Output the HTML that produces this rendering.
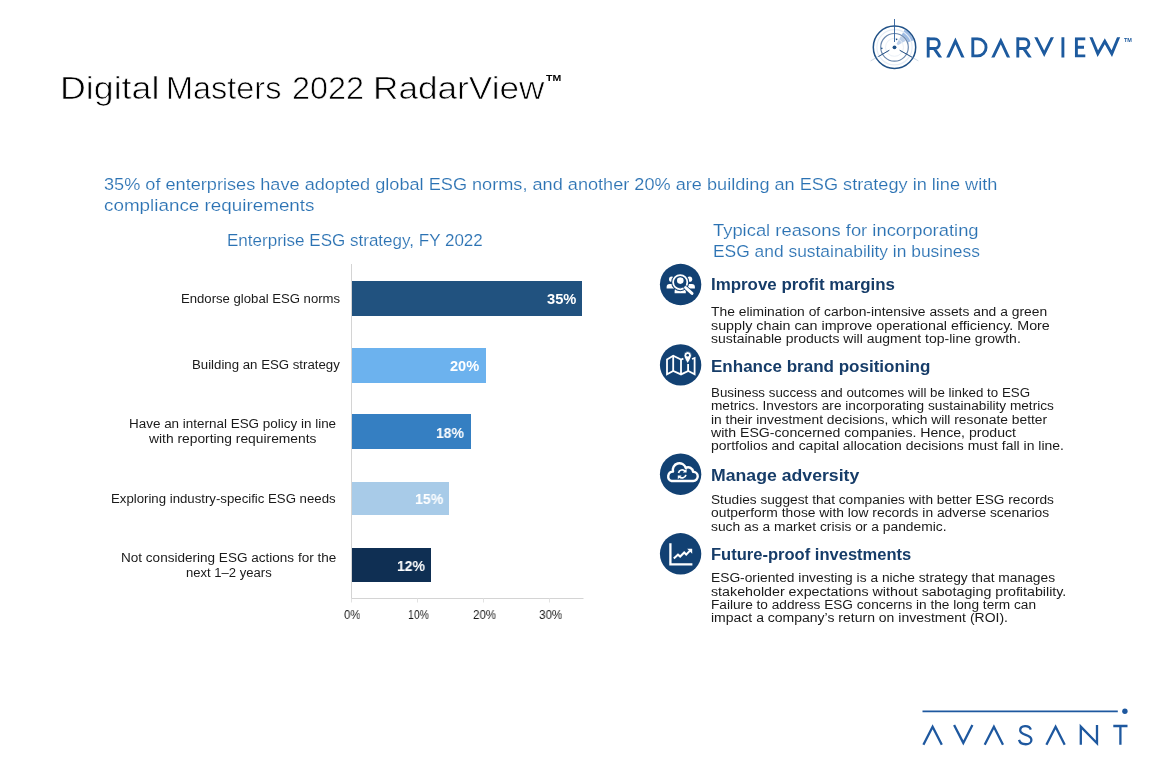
<!DOCTYPE html>
<html lang="en"><head><meta charset="utf-8"><title>Digital Masters 2022 RadarView</title>
<style>
html,body{margin:0;padding:0;background:#fff;}
body{width:1152px;height:768px;position:relative;overflow:hidden;font-family:"Liberation Sans",sans-serif;}
.t{position:absolute;white-space:pre;line-height:1;transform-origin:0 0;will-change:transform;font-family:"Liberation Sans",sans-serif;}
svg.art{position:absolute;left:0;top:0;}
</style></head><body>
<svg class="art" width="1152" height="768" viewBox="0 0 1152 768">
<!-- chart -->
<g shape-rendering="crispEdges">
<rect x="352" y="281" width="230.3" height="34.8" fill="#21527f"/>
<rect x="352" y="348" width="133.8" height="34.6" fill="#6cb2ee"/>
<rect x="352" y="414.4" width="118.9" height="34.4" fill="#357fc2"/>
<rect x="352" y="481.5" width="97" height="33.8" fill="#a8cbe8"/>
<rect x="352" y="548" width="79.4" height="34.1" fill="#0f2f53"/>
</g>
<g stroke="#d4d4d4" stroke-width="1" fill="none">
<path d="M351.5 264 V602"/>
<path d="M351 598.5 H583.5"/>
<path d="M351.5 598.5 v4 M417.5 598.5 v4 M483.5 598.5 v4 M549.5 598.5 v4" stroke="#e2e2e2"/>
</g>
<!-- icon circles -->
<g fill="#124173">
<circle cx="680.6" cy="284.5" r="20.7"/>
<circle cx="680.6" cy="364.9" r="20.7"/>
<circle cx="680.6" cy="474.2" r="20.7"/>
<circle cx="680.6" cy="553.8" r="20.7"/>
</g>

<!-- icon 1: people + magnifier -->
<g fill="#fff" stroke="none">
<circle cx="671.6" cy="279.2" r="2.6"/>
<path d="M666.6 288.6 v-1.6 a3 3 0 0 1 3 -3 h3.6 l1.2 4.6 z"/>
<circle cx="689.6" cy="279.2" r="2.6"/>
<path d="M694.9 288.6 v-1.6 a3 3 0 0 0 -3 -3 h-3.6 l-1.2 4.6 z"/>
<circle cx="680.3" cy="280.6" r="3.3"/>
<path d="M674.6 293.2 v-2 a3.4 3.4 0 0 1 3.4 -3.4 h4.4 a3.4 3.4 0 0 1 3.4 3.4 v2 z"/>
</g>
<circle cx="680.2" cy="282.2" r="7.1" fill="none" stroke="#124173" stroke-width="3.8"/>
<circle cx="680.2" cy="282.2" r="7.1" fill="none" stroke="#fff" stroke-width="1.8"/>
<path d="M685.6 287.6 L692 293.4" stroke="#124173" stroke-width="4.6" stroke-linecap="round"/>
<path d="M685.6 287.6 L692 293.4" stroke="#fff" stroke-width="3" stroke-linecap="round"/>
<!-- icon 2: map + pin -->
<g fill="none" stroke="#fff" stroke-width="1.8" stroke-linejoin="miter" stroke-linecap="butt">
<path d="M683.4 358.6 L681 359.6 L673.2 355.8 L667 359.4 V374.2 L673.2 371 L681 374.4 L688.3 371 L694.6 374.2 V358 L692 359"/>
<path d="M673.2 355.8 V371 M681 359.6 V374.4"/>
<path d="M688.1 364 V371"/>
</g>
<path d="M687.7 351.6 a3.7 3.7 0 0 1 3.7 3.7 c0 2.8 -3.7 8.2 -3.7 8.2 c0 0 -3.7 -5.4 -3.7 -8.2 a3.7 3.7 0 0 1 3.7 -3.7 z" fill="#fff" stroke="#124173" stroke-width="0.8"/>
<circle cx="687.7" cy="355.3" r="1.3" fill="#124173"/>
<!-- icon 3: cloud + sync -->
<path d="M671.7 481 A4.8 4.8 0 0 1 673.05 471.59 A6.6 6.6 0 0 1 685.74 467.96 A4.9 4.9 0 0 1 693.08 471.80 A4.6 4.6 0 0 1 693.2 481 Z" fill="none" stroke="#fff" stroke-width="2.4" stroke-linejoin="round"/>
<g fill="none" stroke="#fff" stroke-width="1.7" stroke-linecap="butt">
<path d="M678.5 473 a3.8 3.8 0 0 1 6.6 -1.8"/>
<path d="M685.9 474.8 a3.8 3.8 0 0 1 -6.6 1.8"/>
</g>
<path d="M686.6 468.6 v3.8 h-3.8 z M677.8 479.2 v-3.8 h3.8 z" fill="#fff"/>
<!-- icon 4: growth chart -->
<path d="M670.4 543.2 V564.3 H692.4" fill="none" stroke="#fff" stroke-width="2.3" stroke-linecap="butt" stroke-linejoin="miter"/>
<path d="M673.8 558.6 L678 554.6 L680.2 556.6 L684.2 552.6 L686.2 554.6 L690 550.6" fill="none" stroke="#fff" stroke-width="2.1" stroke-linejoin="miter"/>
<path d="M687.2 548.8 H692.2 V553.8 Z" fill="#fff"/>

<!-- RADARVIEW logo -->
<clipPath id="rvclip"><rect x="920" y="37.3" width="210" height="20.2"/></clipPath>
<g fill="none" stroke="#1d5a9e" stroke-width="2.9" stroke-linecap="butt" stroke-linejoin="miter" clip-path="url(#rvclip)">
<path d="M928.2 58 V37 M928.2 38.75 H934.4 a4.9 4.9 0 0 1 0 9.8 H928.2 M934.2 48.6 L941 58.4"/>
<path d="M947.4 58.6 L955.4 41 L963.4 58.6"/>
<path d="M972.8 38.75 V56.05 H977.4 a8.65 8.65 0 0 0 0 -17.3 Z"/>
<path d="M992.4 58.6 L1000.8 41 L1009 58.6"/>
<path d="M1017.8 58 V37 M1017.8 38.75 H1024 a4.9 4.9 0 0 1 0 9.8 H1017.8 M1023.8 48.6 L1030.6 58.4"/>
<path d="M1035.4 36.2 L1044.2 53.8 L1052.8 36.2"/>
<path d="M1062.9 37 V58"/>
<path d="M1085.3 38.75 H1076.4 V56.05 H1085.3 M1076.4 47.2 H1084"/>
<path d="M1090.6 36.2 L1097.8 53.6 L1104.8 41.2 L1111.8 53.6 L1119 36.2"/>
</g>
<!-- radar icon -->
<g fill="none">
<path d="M904.75 29.55 A20.5 20.5 0 0 1 913.76 40.29 L908.13 42.34 A14.5 14.5 0 0 0 901.75 34.74 Z" fill="#9dbbe4"/>
<path d="M901 36.04 A13 13 0 0 1 905.76 40.8 L897.96 45.3 A4 4 0 0 0 896.5 43.84 Z" fill="#a9c1e3" opacity=".75"/>
<circle cx="894.5" cy="47.3" r="21.2" stroke="#1f5086" stroke-width="1.5"/>
<circle cx="894.5" cy="47.3" r="17.6" stroke="#e6edf6" stroke-width="1.2"/>
<circle cx="894.5" cy="47.3" r="13.8" stroke="#6b88ae" stroke-width="1.2"/>
<circle cx="894.5" cy="47.3" r="9" stroke="#eaf0f7" stroke-width="1"/>
<path d="M894.5 19 V42" stroke="#2a5d9c" stroke-width="0.9"/>
<path d="M889 50.4 L870.6 60.9 M900 50.4 L918.4 60.9" stroke="#8aa3c4" stroke-width="0.7" opacity=".6"/>
<path d="M889.4 50.2 L878.4 56.6 M899.6 50.2 L912 57.2" stroke="#2a5486" stroke-width="1"/>
<circle cx="894.5" cy="47.3" r="1.9" fill="#1f5086"/>
<circle cx="896.6" cy="39.4" r="0.8" fill="#1f5086"/>
<circle cx="881.8" cy="48.4" r="0.8" fill="#1f5086"/>
</g>
<!-- AVASANT logo -->
<path d="M922.5 711.3 H1117.8" stroke="#1e589f" stroke-width="1.8" fill="none"/>
<circle cx="1124.9" cy="711.2" r="2.7" fill="#1e589f"/>
<g fill="none" stroke="#1e589f" stroke-width="2.3" stroke-linejoin="miter">
<path d="M923.4 744.7 L932.6 726.8 L941.8 744.7"/>
<path d="M954.1 725 L963.3 742.9 L972.4 725"/>
<path d="M984.7 744.7 L993.9 726.8 L1003 744.7"/>
<path d="M1030.8 729.6 C1029.4 724.8 1020.2 724.8 1020.2 730.3 C1020.2 736 1031.4 733.6 1031.4 739.9 C1031.4 745.7 1020.6 745.7 1019 739.9"/>
<path d="M1046.4 744.7 L1055.6 726.8 L1064.7 744.7"/>
<path d="M1080.8 744.7 V726.6 L1097 743.2 V725"/>
<path d="M1113.3 726 H1127.5 M1120.4 726 V744.7"/>
</g>
</svg>

<div class="t" style="left:59.8px;top:72.00px;font-size:32px;color:#000;transform:scaleX(1.1178);-webkit-text-stroke:0.7px #fff;">Digital</div>
<div class="t" style="left:166.2px;top:72.00px;font-size:32px;color:#000;transform:scaleX(1.0141);-webkit-text-stroke:0.7px #fff;">Masters</div>
<div class="t" style="left:291.8px;top:72.00px;font-size:32px;color:#000;transform:scaleX(1.0114);-webkit-text-stroke:0.7px #fff;">2022</div>
<div class="t" style="left:372.6px;top:72.00px;font-size:32px;color:#000;transform:scaleX(1.0992);-webkit-text-stroke:0.7px #fff;">RadarView</div>
<div class="t" style="left:545.6px;top:74.00px;font-size:9.2px;color:#000;transform:scaleX(1.1458);font-weight:700;">TM</div>
<div class="t" style="left:1124.3px;top:38.00px;font-size:5.5px;color:#1d5a9e;transform:scaleX(0.9933);font-weight:700;">TM</div>
<div class="t" style="left:104.0px;top:177.00px;font-size:16.7px;color:#2b72b3;transform:scaleX(1.0869);-webkit-text-stroke:0.15px #fff;">35% of enterprises have adopted global ESG norms, and another 20% are building an ESG strategy in line with</div>
<div class="t" style="left:104.0px;top:198.00px;font-size:16.7px;color:#2b72b3;transform:scaleX(1.1291);-webkit-text-stroke:0.15px #fff;">compliance requirements</div>
<div class="t" style="left:226.9px;top:233.00px;font-size:16.7px;color:#2b72b3;transform:scaleX(1.0201);-webkit-text-stroke:0.15px #fff;">Enterprise ESG strategy, FY 2022</div>
<div class="t" style="left:712.5px;top:223.00px;font-size:16.7px;color:#2b72b3;transform:scaleX(1.1013);-webkit-text-stroke:0.15px #fff;">Typical reasons for incorporating</div>
<div class="t" style="left:712.5px;top:244.00px;font-size:16.7px;color:#2b72b3;transform:scaleX(1.0425);-webkit-text-stroke:0.15px #fff;">ESG and sustainability in business</div>
<div class="t" style="left:180.8px;top:293.00px;font-size:12.5px;color:#1a1a1a;transform:scaleX(1.0504);">Endorse global ESG norms</div>
<div class="t" style="left:192.1px;top:359.00px;font-size:12.5px;color:#1a1a1a;transform:scaleX(1.0582);">Building an ESG strategy</div>
<div class="t" style="left:128.6px;top:418.00px;font-size:12.5px;color:#1a1a1a;transform:scaleX(1.0760);">Have an internal ESG policy in line</div>
<div class="t" style="left:148.5px;top:433.00px;font-size:12.5px;color:#1a1a1a;transform:scaleX(1.1058);">with reporting requirements</div>
<div class="t" style="left:111.3px;top:493.00px;font-size:12.5px;color:#1a1a1a;transform:scaleX(1.0564);">Exploring industry-specific ESG needs</div>
<div class="t" style="left:120.6px;top:552.00px;font-size:12.5px;color:#1a1a1a;transform:scaleX(1.0834);">Not considering ESG actions for the</div>
<div class="t" style="left:185.7px;top:567.00px;font-size:12.5px;color:#1a1a1a;transform:scaleX(1.0451);">next 1–2 years</div>
<div class="t" style="left:343.6px;top:609.00px;font-size:12.4px;color:#1a1a1a;transform:scaleX(0.9151);">0%</div>
<div class="t" style="left:408.3px;top:609.00px;font-size:12.4px;color:#1a1a1a;transform:scaleX(0.8463);">10%</div>
<div class="t" style="left:472.7px;top:609.00px;font-size:12.4px;color:#1a1a1a;transform:scaleX(0.9310);">20%</div>
<div class="t" style="left:539.0px;top:609.00px;font-size:12.4px;color:#1a1a1a;transform:scaleX(0.9390);">30%</div>
<div class="t" style="left:546.5px;top:292.00px;font-size:14.6px;color:#fff;transform:scaleX(1.0062);font-weight:700;">35%</div>
<div class="t" style="left:449.9px;top:359.00px;font-size:14.6px;color:#fff;transform:scaleX(0.9891);font-weight:700;">20%</div>
<div class="t" style="left:436.4px;top:426.00px;font-size:14.6px;color:#fff;transform:scaleX(0.9549);font-weight:700;">18%</div>
<div class="t" style="left:414.9px;top:492.00px;font-size:14.6px;color:#fff;transform:scaleX(0.9720);font-weight:700;">15%</div>
<div class="t" style="left:396.9px;top:559.00px;font-size:14.6px;color:#fff;transform:scaleX(0.9549);font-weight:700;">12%</div>
<div class="t" style="left:711.3px;top:276.00px;font-size:16.3px;color:#163c68;transform:scaleX(1.0376);font-weight:700;">Improve profit margins</div>
<div class="t" style="left:711.3px;top:358.00px;font-size:16.3px;color:#163c68;transform:scaleX(1.0455);font-weight:700;">Enhance brand positioning</div>
<div class="t" style="left:711.3px;top:467.00px;font-size:16.3px;color:#163c68;transform:scaleX(1.0852);font-weight:700;">Manage adversity</div>
<div class="t" style="left:711.3px;top:546.00px;font-size:16.3px;color:#163c68;transform:scaleX(1.0157);font-weight:700;">Future-proof investments</div>
<div class="t" style="left:711.2px;top:306.00px;font-size:12.5px;color:#1a1a1a;transform:scaleX(1.1068);">The elimination of carbon-intensive assets and a green</div>
<div class="t" style="left:711.2px;top:320.00px;font-size:12.5px;color:#1a1a1a;transform:scaleX(1.1437);">supply chain can improve operational efficiency. More</div>
<div class="t" style="left:711.2px;top:333.00px;font-size:12.5px;color:#1a1a1a;transform:scaleX(1.1202);">sustainable products will augment top-line growth.</div>
<div class="t" style="left:711.2px;top:387.00px;font-size:12.5px;color:#1a1a1a;transform:scaleX(1.0653);">Business success and outcomes will be linked to ESG</div>
<div class="t" style="left:711.2px;top:400.00px;font-size:12.5px;color:#1a1a1a;transform:scaleX(1.0920);">metrics. Investors are incorporating sustainability metrics</div>
<div class="t" style="left:711.2px;top:414.00px;font-size:12.5px;color:#1a1a1a;transform:scaleX(1.1045);">in their investment decisions, which will resonate better</div>
<div class="t" style="left:711.2px;top:427.00px;font-size:12.5px;color:#1a1a1a;transform:scaleX(1.1285);">with ESG-concerned companies. Hence, product</div>
<div class="t" style="left:711.2px;top:440.00px;font-size:12.5px;color:#1a1a1a;transform:scaleX(1.1162);">portfolios and capital allocation decisions must fall in line.</div>
<div class="t" style="left:711.2px;top:494.00px;font-size:12.5px;color:#1a1a1a;transform:scaleX(1.0943);">Studies suggest that companies with better ESG records</div>
<div class="t" style="left:711.2px;top:507.00px;font-size:12.5px;color:#1a1a1a;transform:scaleX(1.1060);">outperform those with low records in adverse scenarios</div>
<div class="t" style="left:711.2px;top:521.00px;font-size:12.5px;color:#1a1a1a;transform:scaleX(1.1042);">such as a market crisis or a pandemic.</div>
<div class="t" style="left:711.2px;top:572.00px;font-size:12.5px;color:#1a1a1a;transform:scaleX(1.1029);">ESG-oriented investing is a niche strategy that manages</div>
<div class="t" style="left:711.2px;top:586.00px;font-size:12.5px;color:#1a1a1a;transform:scaleX(1.1396);">stakeholder expectations without sabotaging profitability.</div>
<div class="t" style="left:711.2px;top:599.00px;font-size:12.5px;color:#1a1a1a;transform:scaleX(1.0929);">Failure to address ESG concerns in the long term can</div>
<div class="t" style="left:711.2px;top:612.00px;font-size:12.5px;color:#1a1a1a;transform:scaleX(1.1201);">impact a company’s return on investment (ROI).</div>
</body></html>
